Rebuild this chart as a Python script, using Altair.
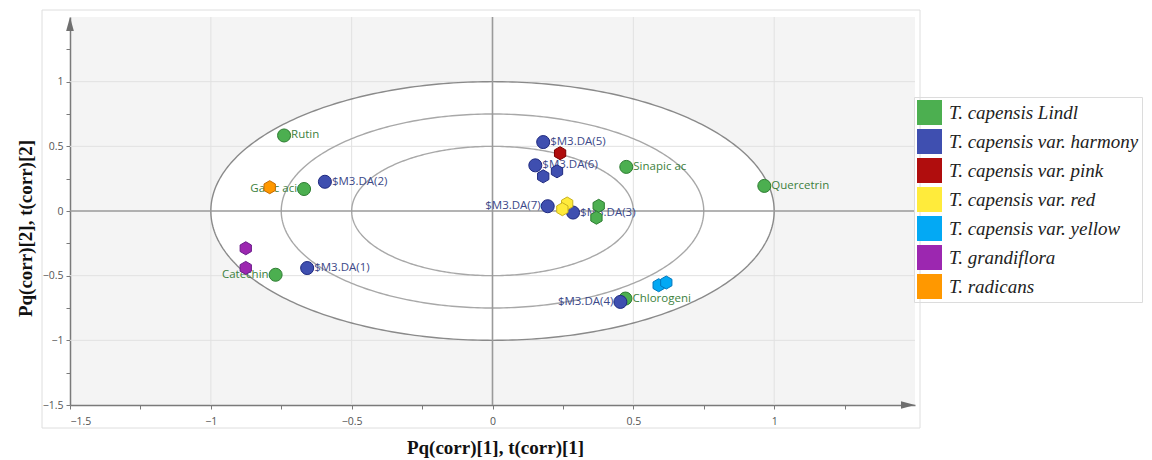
import altair as alt
import numpy as np
import pandas as pd

# ---------------- data ----------------
groups = ["T. capensis Lindl", "T. capensis var. harmony", "T. capensis var. pink",
          "T. capensis var. red", "T. capensis var. yellow", "T. grandiflora", "T. radicans"]
fill_colors = ["#4caf50", "#3f4fb0", "#b00d0d", "#ffeb3b", "#03a9f4", "#9c27b0", "#ff9800"]
stroke_colors = ["#2e7d32", "#1f2a80", "#7a0000", "#c9b21e", "#0277bd", "#6a1b8a", "#c66a00"]

# labelled variables / scores (circles)
lab_names = ["Rutin", "Gallic aci", "Catechin", "Sinapic ac", "Quercetrin", "Chlorogeni",
             "$M3.DA(1)", "$M3.DA(2)", "$M3.DA(3)", "$M3.DA(4)", "$M3.DA(5)", "$M3.DA(6)", "$M3.DA(7)"]
lab_x = [-0.740, -0.669, -0.770, 0.475, 0.965, 0.472,
         -0.658, -0.595, 0.286, 0.454, 0.180, 0.152, 0.196]
lab_y = [0.584, 0.170, -0.493, 0.341, 0.194, -0.677,
         -0.441, 0.226, -0.012, -0.703, 0.533, 0.353, 0.037]
lab_group = [groups[0]] * 6 + [groups[1]] * 7
lab_side = ["R", "L", "L", "R", "R", "R", "R", "R", "R", "L", "R", "R", "L"]

# unlabelled observations (hexagons)
hex_x = [0.377, 0.369, 0.180, 0.229, 0.240, 0.265, 0.248, 0.590, 0.617, -0.876, -0.876, -0.791]
hex_y = [0.040, -0.052, 0.268, 0.307, 0.447, 0.058, 0.014, -0.574, -0.553, -0.288, -0.440, 0.184]
hex_group = [groups[0], groups[0], groups[1], groups[1], groups[2], groups[3], groups[3],
             groups[4], groups[4], groups[5], groups[5], groups[6]]

tick_values = [-1.5, -1.25, -1.0, -0.75, -0.5, -0.25, 0.0, 0.25, 0.5, 0.75, 1.0, 1.25]
grid_values = [-1.0, -0.5, 0.5, 1.0]
ellipse_radii = [1.0, 0.75, 0.5]

# ---------------- tables ----------------
label_color = {groups[0]: "#3d7f3d", groups[1]: "#3b4888"}
pts = pd.DataFrame({
    "name": lab_names + [""] * len(hex_x),
    "x": lab_x + hex_x,
    "y": lab_y + hex_y,
    "group": lab_group + hex_group,
    "kind": ["circle"] * len(lab_x) + ["hex"] * len(hex_x),
    "side": lab_side + [""] * len(hex_x),
})
pts["lcolor"] = pts["group"].map(label_color).fillna("#333")
labels = pts[pts["kind"] == "circle"]

xs = np.linspace(-1, 1, 401)
fill_df = pd.DataFrame({"x": xs, "y": np.sqrt(np.clip(1 - xs ** 2, 0, None))})
fill_df["y2"] = -fill_df["y"]

th = np.linspace(0, 2 * np.pi, 361)
ell = pd.concat([pd.DataFrame({"x": r * np.cos(th), "y": r * np.sin(th), "i": np.arange(len(th)), "r": r})
                 for r in ellipse_radii])
ell["w"] = np.where(ell["r"] == 1.0, "outer", "inner")

grid_df = pd.DataFrame({"v": grid_values})
zero_df = pd.DataFrame({"v": [0.0]})

# ---------------- scales / axes ----------------
dom = [-1.5, 1.5]
xsc = alt.Scale(domain=dom, nice=False, zero=False)
ysc = alt.Scale(domain=dom, nice=False, zero=False)
lab_expr = "abs(datum.value*2 - round(datum.value*2)) < 0.01 ? format(datum.value, '~g') : ''"
common = dict(values=tick_values, labelExpr=lab_expr, grid=False, domainColor="#7a7a7a",
              domainWidth=1.5, tickColor="#7a7a7a", tickSize=4, labelColor="#555",
              labelFontSize=10.5, labelFont="Open Sans", titleFont="Liberation Serif",
              titleFontWeight="bold", titleFontSize=19, titleColor="#111",
              titleBaseline="middle", titleAlign="center")
xaxis = alt.Axis(title="Pq(corr)[1], t(corr)[1]", labelPadding=7, titleX=425, titleY=42, **common)
yaxis = alt.Axis(title="Pq(corr)[2], t(corr)[2]", labelPadding=3, titleX=-45, titleY=211,
                 titleAngle=270, **common)


def X(f="x"):
    return alt.X(f"{f}:Q", scale=xsc, axis=xaxis)


def Y(f="y"):
    return alt.Y(f"{f}:Q", scale=ysc, axis=yaxis)


frame = alt.Chart(pd.DataFrame({"a": [0]})).mark_rect(fill=None, stroke="#dedede", strokeWidth=1).encode(
    x=alt.value(-28), x2=alt.value(850), y=alt.value(-7), y2=alt.value(411))

white = alt.Chart(fill_df).mark_area(color="white", opacity=1).encode(
    x=X(), y=Y(), y2="y2:Q")

vgrid = alt.Chart(grid_df).mark_rule(color="#e1e1e1", strokeWidth=1).encode(x=X("v"))
hgrid = alt.Chart(grid_df).mark_rule(color="#e1e1e1", strokeWidth=1).encode(y=Y("v"))
vzero = alt.Chart(zero_df).mark_rule(color="#9a9a9a", strokeWidth=1.6).encode(x=X("v"))
hzero = alt.Chart(zero_df).mark_rule(color="#9a9a9a", strokeWidth=1.6).encode(y=Y("v"))

ellipses = alt.Chart(ell).mark_line(strokeWidth=1.4).encode(
    x=X(), y=Y(), order="i:Q", detail="r:N",
    color=alt.Color("w:N", scale=alt.Scale(domain=["outer", "inner"], range=["#8a8a8a", "#a8a8a8"]),
                    legend=None))

arrow_up = alt.Chart(pd.DataFrame({"x": [-1.5], "y": [1.5]})).mark_point(
    shape="M0,-1L0.55,1L-0.55,1Z", size=196, filled=True, color="#6f6f6f", opacity=1, yOffset=7).encode(
    x=X(), y=Y())
arrow_right = alt.Chart(pd.DataFrame({"x": [1.5], "y": [-1.5]})).mark_point(
    shape="M1,0L-1,0.55L-1,-0.55Z", size=196, filled=True, color="#6f6f6f", opacity=1, xOffset=-7).encode(
    x=X(), y=Y())

text_r = alt.Chart(labels).transform_filter("datum.side == 'R'").mark_text(
    align="left", baseline="middle", dx=7, font="Open Sans", fontSize=11.5).encode(
    x=X(), y=Y(), text="name:N", color=alt.Color("lcolor:N", scale=None))
text_l = alt.Chart(labels).transform_filter("datum.side == 'L'").mark_text(
    align="right", baseline="middle", dx=-7, font="Open Sans", fontSize=11.5).encode(
    x=X(), y=Y(), text="name:N", color=alt.Color("lcolor:N", scale=None))

hexpath = "M0,-1L0.866,-0.5L0.866,0.5L0,1L-0.866,0.5L-0.866,-0.5Z"
points = alt.Chart(pts).mark_point(filled=True, size=170, opacity=1, strokeWidth=1).encode(
    x=X(), y=Y(),
    fill=alt.Fill("group:N", scale=alt.Scale(domain=groups, range=fill_colors),
                  legend=alt.Legend(title=None, orient="none", legendX=844, legendY=80,
                                    symbolType="square", symbolSize=625, symbolStrokeWidth=0,
                                    labelFont="Liberation Serif", labelFontStyle="italic",
                                    labelFontSize=19, labelColor="#222", labelOffset=7,
                                    rowPadding=4, padding=3, strokeColor="#dcdcdc",
                                    labelLimit=400)),
    stroke=alt.Stroke("group:N", scale=alt.Scale(domain=groups, range=stroke_colors), legend=None),
    shape=alt.Shape("kind:N", scale=alt.Scale(domain=["circle", "hex"], range=["circle", hexpath]),
                    legend=None),
)

chart = alt.layer(frame, white, vgrid, hgrid, ellipses, vzero, hzero, arrow_up, arrow_right,
                  text_r, text_l, points).resolve_scale(color="independent").properties(
    width=845, height=388,
    autosize=alt.AutoSizeParams(type="none"),
    padding={"left": 62, "top": 9, "right": 229, "bottom": 55},
).configure_view(fill="#f4f4f4", stroke=None)

chart.save("out.html", embed_options={"renderer": "svg", "actions": False})
